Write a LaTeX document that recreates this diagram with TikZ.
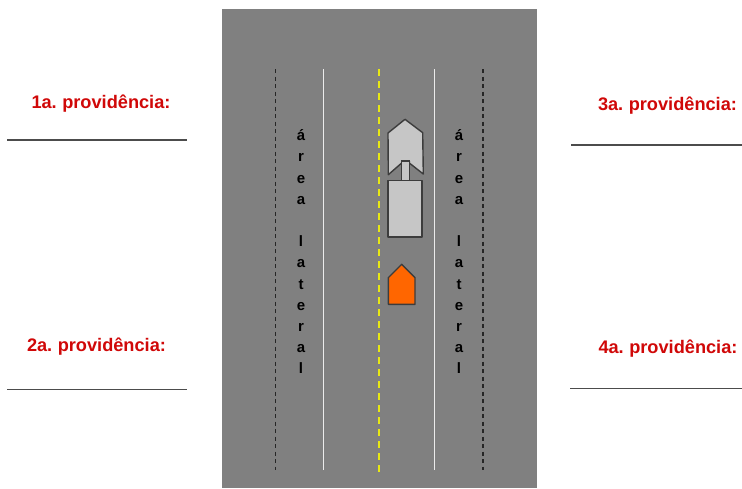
\documentclass[tikz,border=0pt]{standalone}
\usepackage{fontspec}
\setmainfont{Liberation Sans}
\newfontfamily\lblfont[WordSpace=0.75]{Liberation Sans}
\definecolor{road}{RGB}{128,128,128}
\definecolor{lab}{RGB}{208,8,8}
\definecolor{veh}{RGB}{198,198,198}
\definecolor{edgeg}{RGB}{60,60,60}
\definecolor{ora}{RGB}{255,102,0}
\definecolor{yel}{RGB}{232,232,20}
\tikzset{
  roadline/.style={line width=1.4pt},
  blackdash/.style={roadline,black!85,dash pattern=on 4pt off 3.5pt},
  whiteline/.style={line width=1.5pt,white!92!black},
  yellowdash/.style={line width=1.8pt,yel,dash pattern=on 7pt off 5pt},
  answer/.style={line width=1.2pt,black!70},
  lbl/.style={font=\lblfont\fontsize{18.2}{20}\selectfont\bfseries,text=lab,anchor=center,inner sep=0pt},
  vert/.style={font=\fontsize{15}{21.2}\selectfont\bfseries,align=center,anchor=north,inner sep=0pt,text=black},
  vehicle/.style={draw=edgeg,fill=veh,line width=1.4pt,line join=round},
  car/.style={draw=edgeg,fill=ora,line width=1.4pt,line join=round}
}
\begin{document}
\begin{tikzpicture}[x=1pt,y=-1pt]
\useasboundingbox (0,0) rectangle (742,488);
\fill[road] (222,9) rectangle (537,488);
% road markings
\coordinate (d1a) at (275.5,69); \coordinate (d1b) at (275.5,470);
\coordinate (w1a) at (323.5,69); \coordinate (w1b) at (323.5,470);
\coordinate (ya) at (379,69);    \coordinate (yb) at (379,472);
\coordinate (w2a) at (434.5,69); \coordinate (w2b) at (434.5,470);
\coordinate (d2a) at (483,69);   \coordinate (d2b) at (483,470);
\draw[blackdash] (d1a) -- (d1b);
\draw[whiteline] (w1a) -- (w1b);
\draw[yellowdash] (ya) -- (yb);
\draw[whiteline] (w2a) -- (w2b);
\draw[blackdash] (d2a) -- (d2b);
% side-area labels
\node[vert] (areaL) at (301,129.5) {á\\r\\e\\a\\ \\l\\a\\t\\e\\r\\a\\l};
\node[vert] (areaR) at (459,129.5) {á\\r\\e\\a\\ \\l\\a\\t\\e\\r\\a\\l};
% truck
\draw[vehicle] (405,119.3) -- (422.7,132.7) -- (423.3,174) -- (409.3,163) -- (409.3,161) -- (401.7,161) -- (401.7,163) -- (388.3,174.7) -- (388,133) -- cycle;
\draw[vehicle] (388,180.3) rectangle (422,237);
\fill[veh] (402.3,160) rectangle (408.7,180);
\draw[edgeg,line width=1.4pt] (401.7,180.3) -- (401.7,161) -- (409.3,161) -- (409.3,180.3);
% car
\draw[car] (401.7,264.3) -- (415,277.7) -- (415,304.3) -- (388.3,304.3) -- (388.3,277.7) -- cycle;
% labels
\node[lbl] (p1) at (101,103.7) {1a. providência:};
\node[lbl] (p2) at (96.5,346.2) {2a. providência:};
\node[lbl] (p3) at (667.5,105.7) {3a. providência:};
\node[lbl] (p4) at (668,348.2) {4a. providência:};
\coordinate (l1a) at (7,140); \coordinate (l1b) at (187,140);
\coordinate (l2a) at (7,389.5); \coordinate (l2b) at (187,389.5);
\coordinate (l3a) at (571,145); \coordinate (l3b) at (742,145);
\coordinate (l4a) at (570,388.5); \coordinate (l4b) at (742,388.5);
\draw[answer] (l1a) -- (l1b);
\draw[answer] (l2a) -- (l2b);
\draw[answer] (l3a) -- (l3b);
\draw[answer] (l4a) -- (l4b);
\end{tikzpicture}
\end{document}
